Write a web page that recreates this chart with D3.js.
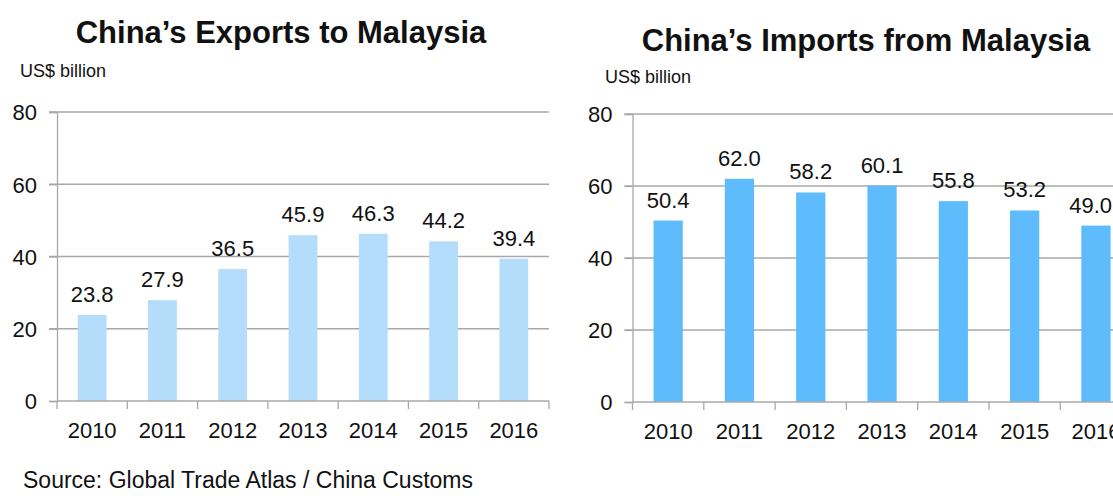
<!DOCTYPE html>
<html>
<head>
<meta charset="utf-8">
<script src="https://cdn.jsdelivr.net/npm/d3@7"></script>
<style>
  body { margin: 0; background: #fff; }
  svg text { font-family: "Liberation Sans", Arial, sans-serif; fill: #111; }
</style>
</head>
<body>
<svg id="chart" width="1113" height="496"></svg>
<script>
const years = ["2010", "2011", "2012", "2013", "2014", "2015", "2016"];
const exportsValues = [23.8, 27.9, 36.5, 45.9, 46.3, 44.2, 39.4];
const importsValues = [50.4, 62.0, 58.2, 60.1, 55.8, 53.2, 49.0];
const yTicks = [0, 20, 40, 60, 80];
const unitLabel = "US$ billion";
const sourceText = "Source: Global Trade Atlas / China Customs";

const svg = d3.select("#chart");
const W = +svg.attr("width");
const gridColor = "#a8a8a8";

const drawPanel = (opts) => {
  const g = svg.append("g");

  const x = d3.scaleBand().domain(years).range([opts.left, opts.right]).padding(0);
  const y = d3.scaleLinear().domain([0, 80]).range([opts.bottom, opts.top]);
  const barW = x.bandwidth() * 0.41;

  // title + unit
  g.append("text")
    .attr("x", opts.titleX).attr("y", opts.titleY)
    .attr("text-anchor", "middle")
    .style("font-size", "31px").style("font-weight", "bold")
    .text(opts.title);
  g.append("text")
    .attr("x", opts.unitX).attr("y", opts.unitY)
    .style("font-size", "18px")
    .text(unitLabel);

  // gridlines
  g.selectAll("line.grid")
    .data(yTicks.filter(t => t > 0))
    .enter().append("line")
      .attr("class", "grid")
      .attr("x1", opts.left - 8).attr("x2", opts.right)
      .attr("y1", d => y(d)).attr("y2", d => y(d))
      .style("stroke", gridColor).style("stroke-width", 1.3);

  // y axis
  const yAxis = g.append("g")
    .attr("transform", "translate(" + opts.left + ",0)")
    .call(d3.axisLeft(y).tickValues(yTicks).tickSize(8).tickPadding(12));
  yAxis.select(".domain").style("stroke", gridColor).style("stroke-width", 1.3);
  yAxis.selectAll(".tick line").style("stroke", gridColor).style("stroke-width", 1.3);
  yAxis.selectAll(".tick text")
    .style("font-size", "22px").style("font-family", "Liberation Sans, Arial, sans-serif")
    .attr("fill", "#111").attr("dy", "0.36em");

  // bars
  g.selectAll("rect.bar")
    .data(opts.values)
    .enter().append("rect")
      .attr("class", "bar")
      .attr("x", (d, i) => x(years[i]) + (x.bandwidth() - barW) / 2)
      .attr("width", barW)
      .attr("y", d => y(d))
      .attr("height", d => y(0) - y(d))
      .style("fill", opts.color);

  // value labels, pulled back inside the page if they would run off the edge
  g.selectAll("text.val")
    .data(opts.values)
    .enter().append("text")
      .attr("class", "val")
      .attr("x", (d, i) => x(years[i]) + x.bandwidth() / 2)
      .attr("y", d => y(d) - 13)
      .attr("text-anchor", "middle")
      .style("font-size", "22px")
      .text(d => d.toFixed(1))
      .each(function () {
        const half = this.getComputedTextLength() / 2;
        const cx = +this.getAttribute("x");
        if (cx + half > W - 1) this.setAttribute("x", W - 1 - half);
      });

  // x axis: category boundaries as tick marks
  g.append("line")
    .attr("x1", opts.left).attr("x2", opts.right)
    .attr("y1", y(0)).attr("y2", y(0))
    .style("stroke", gridColor).style("stroke-width", 1.3);
  g.selectAll("line.xtick")
    .data(years.concat(["end"]))
    .enter().append("line")
      .attr("class", "xtick")
      .attr("x1", (d, i) => opts.left + i * x.step())
      .attr("x2", (d, i) => opts.left + i * x.step())
      .attr("y1", y(0)).attr("y2", y(0) + 8)
      .style("stroke", gridColor).style("stroke-width", 1.3);
  g.selectAll("text.year")
    .data(years)
    .enter().append("text")
      .attr("class", "year")
      .attr("x", d => x(d) + x.bandwidth() / 2)
      .attr("y", y(0) + 37)
      .attr("text-anchor", "middle")
      .style("font-size", "22px")
      .text(d => d);
};

drawPanel({
  title: "China\u2019s Exports to Malaysia", titleX: 281, titleY: 43,
  unitX: 20, unitY: 77,
  left: 57, right: 549, top: 112, bottom: 401,
  values: exportsValues, color: "#b3ddfb"
});

drawPanel({
  title: "China\u2019s Imports from Malaysia", titleX: 866, titleY: 51,
  unitX: 605, unitY: 83,
  left: 632.5, right: 1131.6, top: 114, bottom: 402,
  values: importsValues, color: "#5ebcfc"
});

svg.append("text")
  .attr("x", 23).attr("y", 488)
  .style("font-size", "23px")
  .text(sourceText);
</script>
</body>
</html>
